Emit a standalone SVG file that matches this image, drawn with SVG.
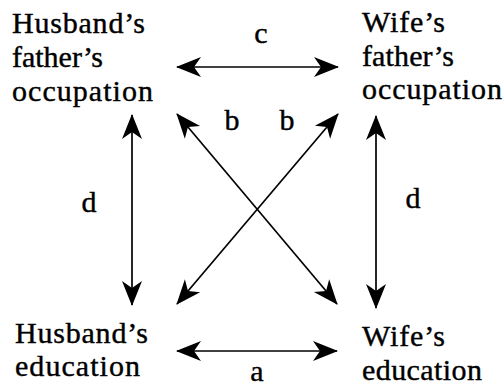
<svg xmlns="http://www.w3.org/2000/svg" width="504" height="392" viewBox="0 0 504 392">
<style>
text{font-family:"Liberation Serif","Times New Roman",serif;font-size:30px;fill:#000;stroke:#000;stroke-width:0.4}
.lab{text-anchor:middle}
.con line{stroke:#000;stroke-width:1.7;fill:none;marker-start:url(#ah);marker-end:url(#ah)}
</style>
<defs>
<marker id="ah" markerUnits="userSpaceOnUse" viewBox="-27 -13 29 26" refX="0" refY="0" markerWidth="29" markerHeight="26" orient="auto-start-reverse">
<path d="M1,0 L-24,-10 L-17,0 L-24,10 Z" fill="#000"/>
</marker>
</defs>
<rect width="504" height="392" fill="#fff"/>
<g id="hfo">
<text x="12" y="33" textLength="133" lengthAdjust="spacing">Husband’s</text>
<text x="12" y="67" textLength="91" lengthAdjust="spacing">father’s</text>
<text x="12" y="101" textLength="141" lengthAdjust="spacing">occupation</text>
</g>
<g id="wfo">
<text x="362" y="32" textLength="83" lengthAdjust="spacing">Wife’s</text>
<text x="362" y="65.5" textLength="92" lengthAdjust="spacing">father’s</text>
<text x="362" y="99" textLength="140" lengthAdjust="spacing">occupation</text>
</g>
<g id="he">
<text x="15" y="343" textLength="133" lengthAdjust="spacing">Husband’s</text>
<text x="15" y="376" textLength="125" lengthAdjust="spacing">education</text>
</g>
<g id="we">
<text x="362" y="346" textLength="83" lengthAdjust="spacing">Wife’s</text>
<text x="362" y="380" textLength="120" lengthAdjust="spacing">education</text>
</g>
<g id="connectors" class="con">
<line x1="177" y1="67" x2="338" y2="67"/>
<line x1="177" y1="351" x2="337" y2="351"/>
<line x1="132" y1="115" x2="132" y2="305"/>
<line x1="376" y1="116" x2="376" y2="308"/>
<line x1="177" y1="114" x2="337" y2="304"/>
<line x1="338" y1="114" x2="177" y2="304"/>
</g>
<g id="labels">
<text class="lab" x="261" y="43">c</text>
<text class="lab" x="257" y="381">a</text>
<text class="lab" x="89" y="212">d</text>
<text class="lab" x="413" y="208">d</text>
<text class="lab" x="232" y="130">b</text>
<text class="lab" x="287" y="130">b</text>
</g>
</svg>
